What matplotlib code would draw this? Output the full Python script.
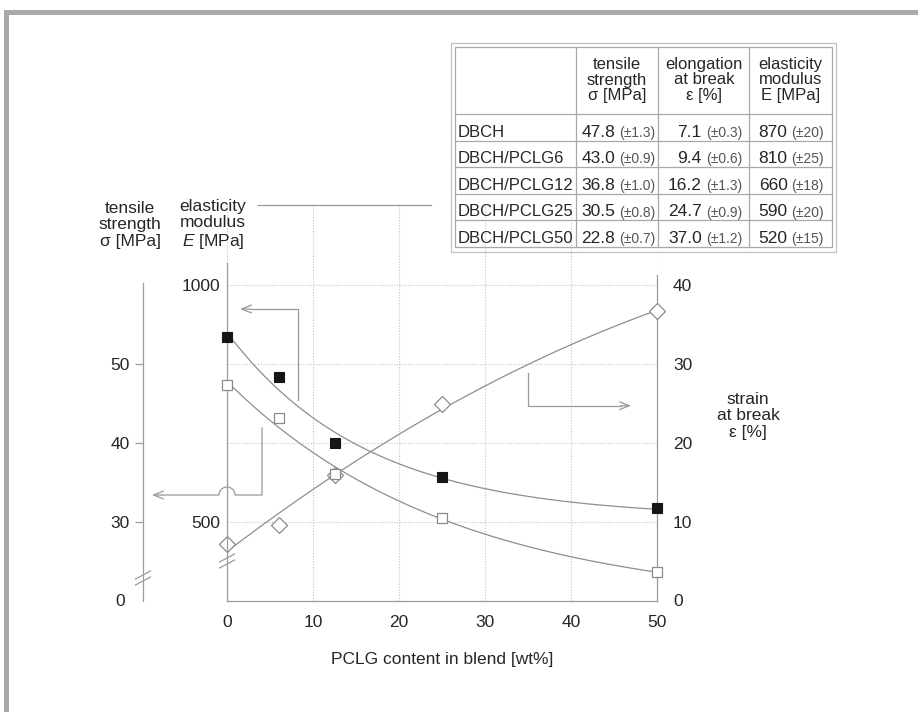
import numpy as np
import matplotlib
matplotlib.use('Agg')
import matplotlib.pyplot as plt
from matplotlib.patches import Rectangle, FancyArrowPatch
from matplotlib.lines import Line2D
from matplotlib.transforms import Affine2D

plt.rcParams['font.family'] = ['Liberation Sans', 'DejaVu Sans']
plt.rcParams['mathtext.fontset'] = 'custom'
plt.rcParams['mathtext.rm'] = 'Liberation Sans'
plt.rcParams['mathtext.it'] = 'Liberation Sans:italic'

# ---------------- data ----------------
pclg = [0, 6, 12.5, 25, 50]
tensile = [47.4, 43.1, 36.1, 30.5, 23.6]      # sigma [MPa]
modulus = [891, 807, 666, 595, 528]           # E [MPa]
strain = [7.2, 9.6, 15.9, 24.9, 36.7]         # epsilon [%]

x_ticks = [0, 10, 20, 30, 40, 50]
strain_ticks = [0, 10, 20, 30, 40]
E_ticks = [500, 1000]
sigma_ticks = [20, 30, 40, 50]
sigma_tick_labels = ['0', '30', '40', '50']

table_rows = ['DBCH', 'DBCH/PCLG6', 'DBCH/PCLG12', 'DBCH/PCLG25', 'DBCH/PCLG50']
table_headers = ['tensile\nstrength\nσ [MPa]', 'elongation\nat break\nε [%]',
                 'elasticity\nmodulus\nE [MPa]']
table_sigma = ['47.8', '43.0', '36.8', '30.5', '22.8']
table_sigma_err = ['1.3', '0.9', '1.0', '0.8', '0.7']
table_eps = ['7.1', '9.4', '16.2', '24.7', '37.0']
table_eps_err = ['0.3', '0.6', '1.3', '0.9', '1.2']
table_E = ['870', '810', '660', '590', '520']
table_E_err = ['20', '25', '18', '20', '15']

# ---------------- figure ----------------
W, H = 918, 712
fig = plt.figure(figsize=(W / 100, H / 100), dpi=100, facecolor='white')
T = Affine2D().scale(1 / W, -1 / H).translate(0, 1) + fig.transFigure  # pixel coords (y down)

GRAY = '#9c9c9c'
TXT = '#262626'
FS = 12.5

# frame
fig.add_artist(Rectangle((4, 9.5), W - 4, 5, transform=T, color='#a9a9a9', lw=0))
fig.add_artist(Rectangle((4, 9.5), 5, H - 9, transform=T, color='#a9a9a9', lw=0))

x0, x1, yb, yt = 227, 657, 600.5, 205
ax = fig.add_axes([x0 / W, 1 - yb / H, (x1 - x0) / W, (yb - yt) / H])
ppu = 7.88
top_s = (yb - yt) / ppu


def s2E(s):
    return 500 + (np.asarray(s) - 10) * 50 / 3


def s2sig(s):
    return np.asarray(s) + 20


ax.set_xlim(0, 50)
ax.set_ylim(0, top_s)
axE = ax.twinx()
axE.set_ylim(s2E(0), s2E(top_s))
axS = ax.twinx()
axS.set_ylim(s2sig(0), s2sig(top_s))

for a in (ax, axE, axS):
    for sp in a.spines.values():
        sp.set_visible(False)
        sp.set_color(GRAY)
        sp.set_linewidth(0.9)

# main axis (strain, right)
ax.yaxis.tick_right()
ax.set_xticks(x_ticks)
ax.set_yticks(strain_ticks)
ax.tick_params(axis='x', length=0, pad=10.5, labelsize=FS, labelcolor=TXT)
ax.tick_params(axis='y', length=0, pad=11.5, labelsize=FS, labelcolor=TXT)
ax.spines['bottom'].set_visible(True)
ax.spines['right'].set_visible(True)
ax.spines['right'].set_bounds(0, (yb - 275) / ppu)
ax.grid(True, color='#c4c4c4', linestyle=(0, (1, 1.5)), linewidth=0.8)
ax.set_axisbelow(True)
ax.set_xlabel('PCLG content in blend [wt%]', fontsize=FS, color=TXT, labelpad=16)

# elasticity modulus axis
axE.yaxis.tick_left()
axE.set_yticks(E_ticks)
axE.tick_params(axis='y', length=0, pad=5, labelsize=FS, labelcolor=TXT)
axE.spines['left'].set_visible(True)
axE.spines['left'].set_bounds(s2E(0), s2E((yb - 263) / ppu))

# tensile strength axis
axS.yaxis.tick_left()
axS.set_yticks(sigma_ticks, sigma_tick_labels)
axS.tick_params(axis='y', length=5.8, width=0.9, color=GRAY, pad=3.6,
                labelsize=FS, labelcolor=TXT)
axS.spines['left'].set_visible(True)
axS.spines['left'].set_position(('axes', (143 - x0) / (x1 - x0)))
axS.spines['left'].set_bounds(s2sig(0), s2sig((yb - 283) / ppu))
tk0 = axS.yaxis.get_major_ticks()[0]
tk0.tick1line.set_visible(False)
tk0.set_pad(7.5)


# ---------------- fitted trend curves ----------------
def expfit(x, y):
    x = np.asarray(x, float)
    y = np.asarray(y, float)
    best = None
    for c in np.linspace(0.002, 0.3, 800):
        A = np.vstack([np.ones_like(x), np.exp(-c * x)]).T
        coef, *_ = np.linalg.lstsq(A, y, rcond=None)
        r = np.sum((A @ coef - y) ** 2)
        if best is None or r < best[0]:
            best = (r, c, coef)
    _, c, coef = best
    return lambda t: coef[0] + coef[1] * np.exp(-c * t)


xs = np.linspace(0, 50, 300)
fE = expfit(pclg, modulus)
fS = expfit(pclg, tensile)
pe = np.polyfit(pclg, strain, 2)
LC = '#8e8e8e'
axE.plot(xs, fE(xs), color=LC, lw=0.9, zorder=2)
axS.plot(xs, fS(xs), color=LC, lw=0.9, zorder=2)
ax.plot(xs, np.polyval(pe, xs), color=LC, lw=0.9, zorder=2)

# ---------------- markers ----------------
ax.plot(pclg, strain, 'D', ms=8, mfc='white', mec='#8a8a8a', mew=0.9,
        clip_on=False, zorder=4)
axS.plot(pclg, tensile, 's', ms=7.5, mfc='white', mec='#8a8a8a', mew=0.9,
         clip_on=False, zorder=4)
axE.plot(pclg, modulus, 's', ms=7.5, mfc='#161616', mec='#161616', mew=0.8,
         clip_on=False, zorder=5)

# ---------------- annotations (pixel coords) ----------------
AC = '#9a9a9a'


def pline(xs_, ys_):
    fig.add_artist(Line2D(xs_, ys_, transform=T, color=AC, lw=0.9))


def parrow(p_from, p_to):
    fig.add_artist(FancyArrowPatch(p_from, p_to, transform=T, color=AC, lw=0.9,
                                   arrowstyle='->,head_length=0.7,head_width=0.28',
                                   mutation_scale=10, shrinkA=0, shrinkB=0))


# arrow to E axis
pline([298, 298, 250], [400, 309, 309])
parrow((250, 309), (240, 309))
# arrow to sigma axis with hop over E axis
t = np.linspace(0, np.pi, 40)
hx = list(227 + 8 * np.cos(t))
hy = list(495 - 8 * np.sin(t))
pline([262, 262, 235] + hx + [219, 162], [428, 495, 495] + hy + [495, 495])
parrow((162, 495), (152, 495))
# arrow to strain axis
pline([528, 528, 621], [373, 405.7, 405.7])
parrow((621, 405.7), (631, 405.7))
# leader line from modulus label to table
pline([258, 431], [205, 205])

# break marks
for cx, cy in [(227, 561), (143, 578)]:
    for off in (-3, 3):
        pline([cx - 7.5, cx + 7.5], [cy + off + 4, cy + off - 4])

# axis titles
fig.text(130 / W, 1 - 225 / H, 'tensile\nstrength\nσ [MPa]', ha='center', va='center',
         fontsize=FS, color=TXT, linespacing=1.15)
fig.text(213 / W, 1 - 225 / H, 'elasticity\nmodulus\n$\\mathit{E}$ [MPa]', ha='center',
         va='center', fontsize=FS, color=TXT, linespacing=1.15)
fig.text(748 / W, 1 - 416 / H, 'strain\nat break\nε [%]', ha='center', va='center',
         fontsize=FS, color=TXT, linespacing=1.15)

# ---------------- table ----------------
TL = '#a8a8a8'
fig.add_artist(Rectangle((451, 43), 385, 208.5, transform=T, fill=False, ec='#c0c0c0', lw=0.9))
L, R, Tp, Bt = 454.5, 832, 46.5, 247
fig.add_artist(Rectangle((L, Tp), R - L, Bt - Tp, transform=T, fill=False, ec=TL, lw=0.9))
col_x = [575.7, 658.3, 749.3]
row_y = [114, 140.6, 167.2, 193.8, 220.4]
for cxl in col_x:
    fig.add_artist(Line2D([cxl, cxl], [Tp, Bt], transform=T, color=TL, lw=0.9))
for ry in row_y:
    fig.add_artist(Line2D([L, R], [ry, ry], transform=T, color=TL, lw=0.9))

col_edges = [L] + col_x + [R]
for j, htxt in enumerate(table_headers):
    cxm = (col_edges[j + 1] + col_edges[j + 2]) / 2
    fig.text(cxm / W, 1 - 80 / H, htxt, ha='center', va='center', fontsize=12,
             color=TXT, linespacing=1.08)

renderer = fig.canvas.get_renderer()
cols = [(table_sigma, table_sigma_err, 655), (table_eps, table_eps_err, 742),
        (table_E, table_E_err, 824)]
for i, name in enumerate(table_rows):
    base = 136.7 + i * 26.6
    fig.text(458 / W, 1 - base / H, name, ha='left', va='baseline', fontsize=12, color=TXT)
    for vals, errs, rx in cols:
        te = fig.text(rx / W, 1 - base / H, '(±' + errs[i] + ')', ha='right',
                      va='baseline', fontsize=10, color='#555555')
        w = te.get_window_extent(renderer).width
        fig.text((rx - w - 4) / W, 1 - base / H, vals[i], ha='right', va='baseline',
                 fontsize=12.5, color=TXT)

fig.savefig('out.png', dpi=100, facecolor='white')
